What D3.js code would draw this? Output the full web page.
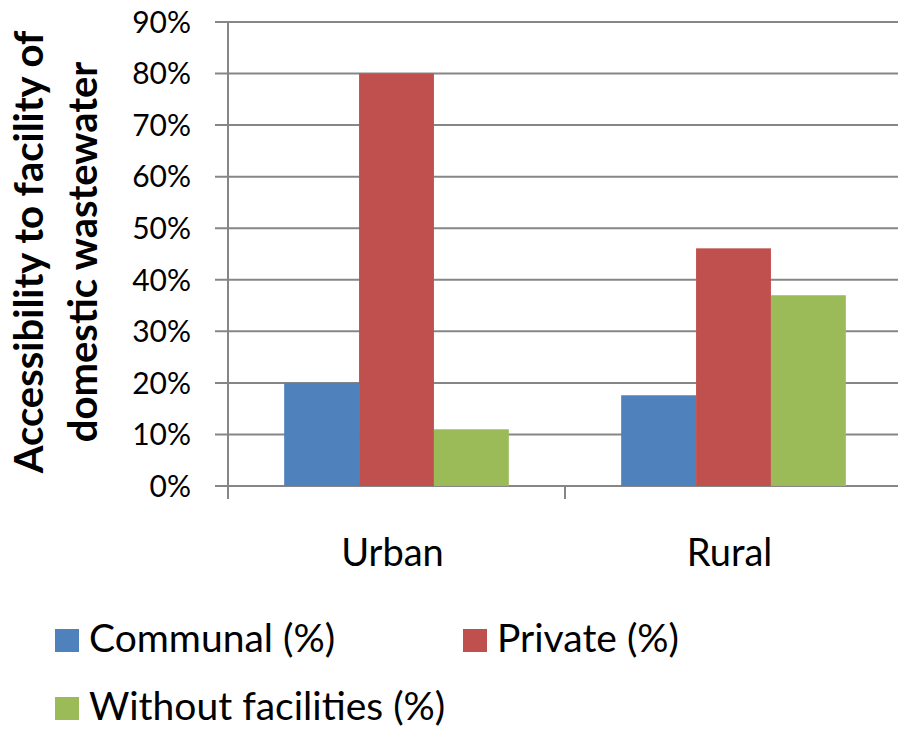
<!DOCTYPE html>
<html lang="en">
<head>
<meta charset="utf-8">
<title>Wastewater facility access</title>
<script src="https://d3js.org/d3.v7.min.js"></script>
<style>
  body { margin: 0; background: white; }
  svg { display: block; font-family: Lato, 'Open Sans', sans-serif; }
</style>
</head>
<body>
<svg id="chart" width="898" height="730"></svg>
<script>
// data
const areas = ["Urban", "Rural"];
const seriesNames = ["Communal (%)", "Private (%)", "Without facilities (%)"];
const communal = [20.0, 17.6];
const privateVals = [80.0, 46.1];
const without = [11.0, 37.0];
const yTicks = [0, 10, 20, 30, 40, 50, 60, 70, 80, 90];
const colors = ["#4f81bd", "#c0504d", "#9bbb59"];

const svg = d3.select("#chart");
const plotLeft = 228, plotRight = 902, plotTop = 22, plotBottom = 486;

const x = d3.scaleBand().domain(areas).range([plotLeft, plotRight]);
// excel style gap: 75% of one bar on each side of the group
const x1 = d3.scaleBand().domain(seriesNames).range([0, x.bandwidth()])
             .paddingInner(0).paddingOuter(0.75);
const y = d3.scaleLinear().domain([0, 90]).range([plotBottom, plotTop]);

// gridlines
svg.append("g").selectAll("line").data(yTicks).join("line")
   .attr("x1", plotLeft - 13).attr("x2", 898)
   .attr("y1", d => y(d)).attr("y2", d => y(d))
   .attr("stroke", "#868686").attr("stroke-width", 2);

// y axis line
svg.append("line").attr("x1", plotLeft).attr("x2", plotLeft)
   .attr("y1", plotTop).attr("y2", plotBottom + 13)
   .attr("stroke", "#868686").attr("stroke-width", 2);

// category tick marks
svg.append("g").selectAll("line").data(areas.slice(1)).join("line")
   .attr("x1", d => x(d)).attr("x2", d => x(d))
   .attr("y1", plotBottom).attr("y2", plotBottom + 13)
   .attr("stroke", "#868686").attr("stroke-width", 2);

// y tick labels
svg.append("g").selectAll("text").data(yTicks).join("text")
   .attr("x", 191).attr("y", d => y(d))
   .attr("dy", "0.36em")
   .attr("text-anchor", "end")
   .attr("font-size", 30)
   .attr("fill", "#000")
   .text(d => d + "%");

// bars
const series = [communal, privateVals, without];
series.forEach((vals, si) => {
  svg.append("g").selectAll("rect").data(areas).join("rect")
     .attr("x", d => x(d) + x1(seriesNames[si]))
     .attr("width", x1.bandwidth())
     .attr("y", (d, i) => y(vals[i]))
     .attr("height", (d, i) => y(0) - y(vals[i]))
     .attr("fill", colors[si]);
});

// category labels
svg.append("g").selectAll("text").data(areas).join("text")
   .attr("x", d => x(d) + x.bandwidth() / 2 - 4)
   .attr("y", 566)
   .attr("text-anchor", "middle")
   .attr("font-size", 38)
   .text(d => d);

// y axis title
const title = svg.append("text")
   .attr("transform", "translate(43,252) rotate(-90)")
   .attr("text-anchor", "middle")
   .attr("font-size", 40)
   .attr("font-weight", "bold");
title.append("tspan").attr("x", 0).attr("dy", 0).text("Accessibility to facility of");
title.append("tspan").attr("x", 0).attr("dy", 54).text("domestic wastewater");

// legend
const legendPos = [[55, 629], [463, 629], [55, 697]];
const lg = svg.append("g").selectAll("g").data(seriesNames).join("g")
   .attr("transform", (d, i) => `translate(${legendPos[i][0]},${legendPos[i][1]})`);
lg.append("rect").attr("width", 24).attr("height", 23).attr("fill", (d, i) => colors[i]);
lg.append("text").attr("x", 34).attr("y", 23).attr("font-size", 39).text(d => d);
</script>
</body>
</html>
